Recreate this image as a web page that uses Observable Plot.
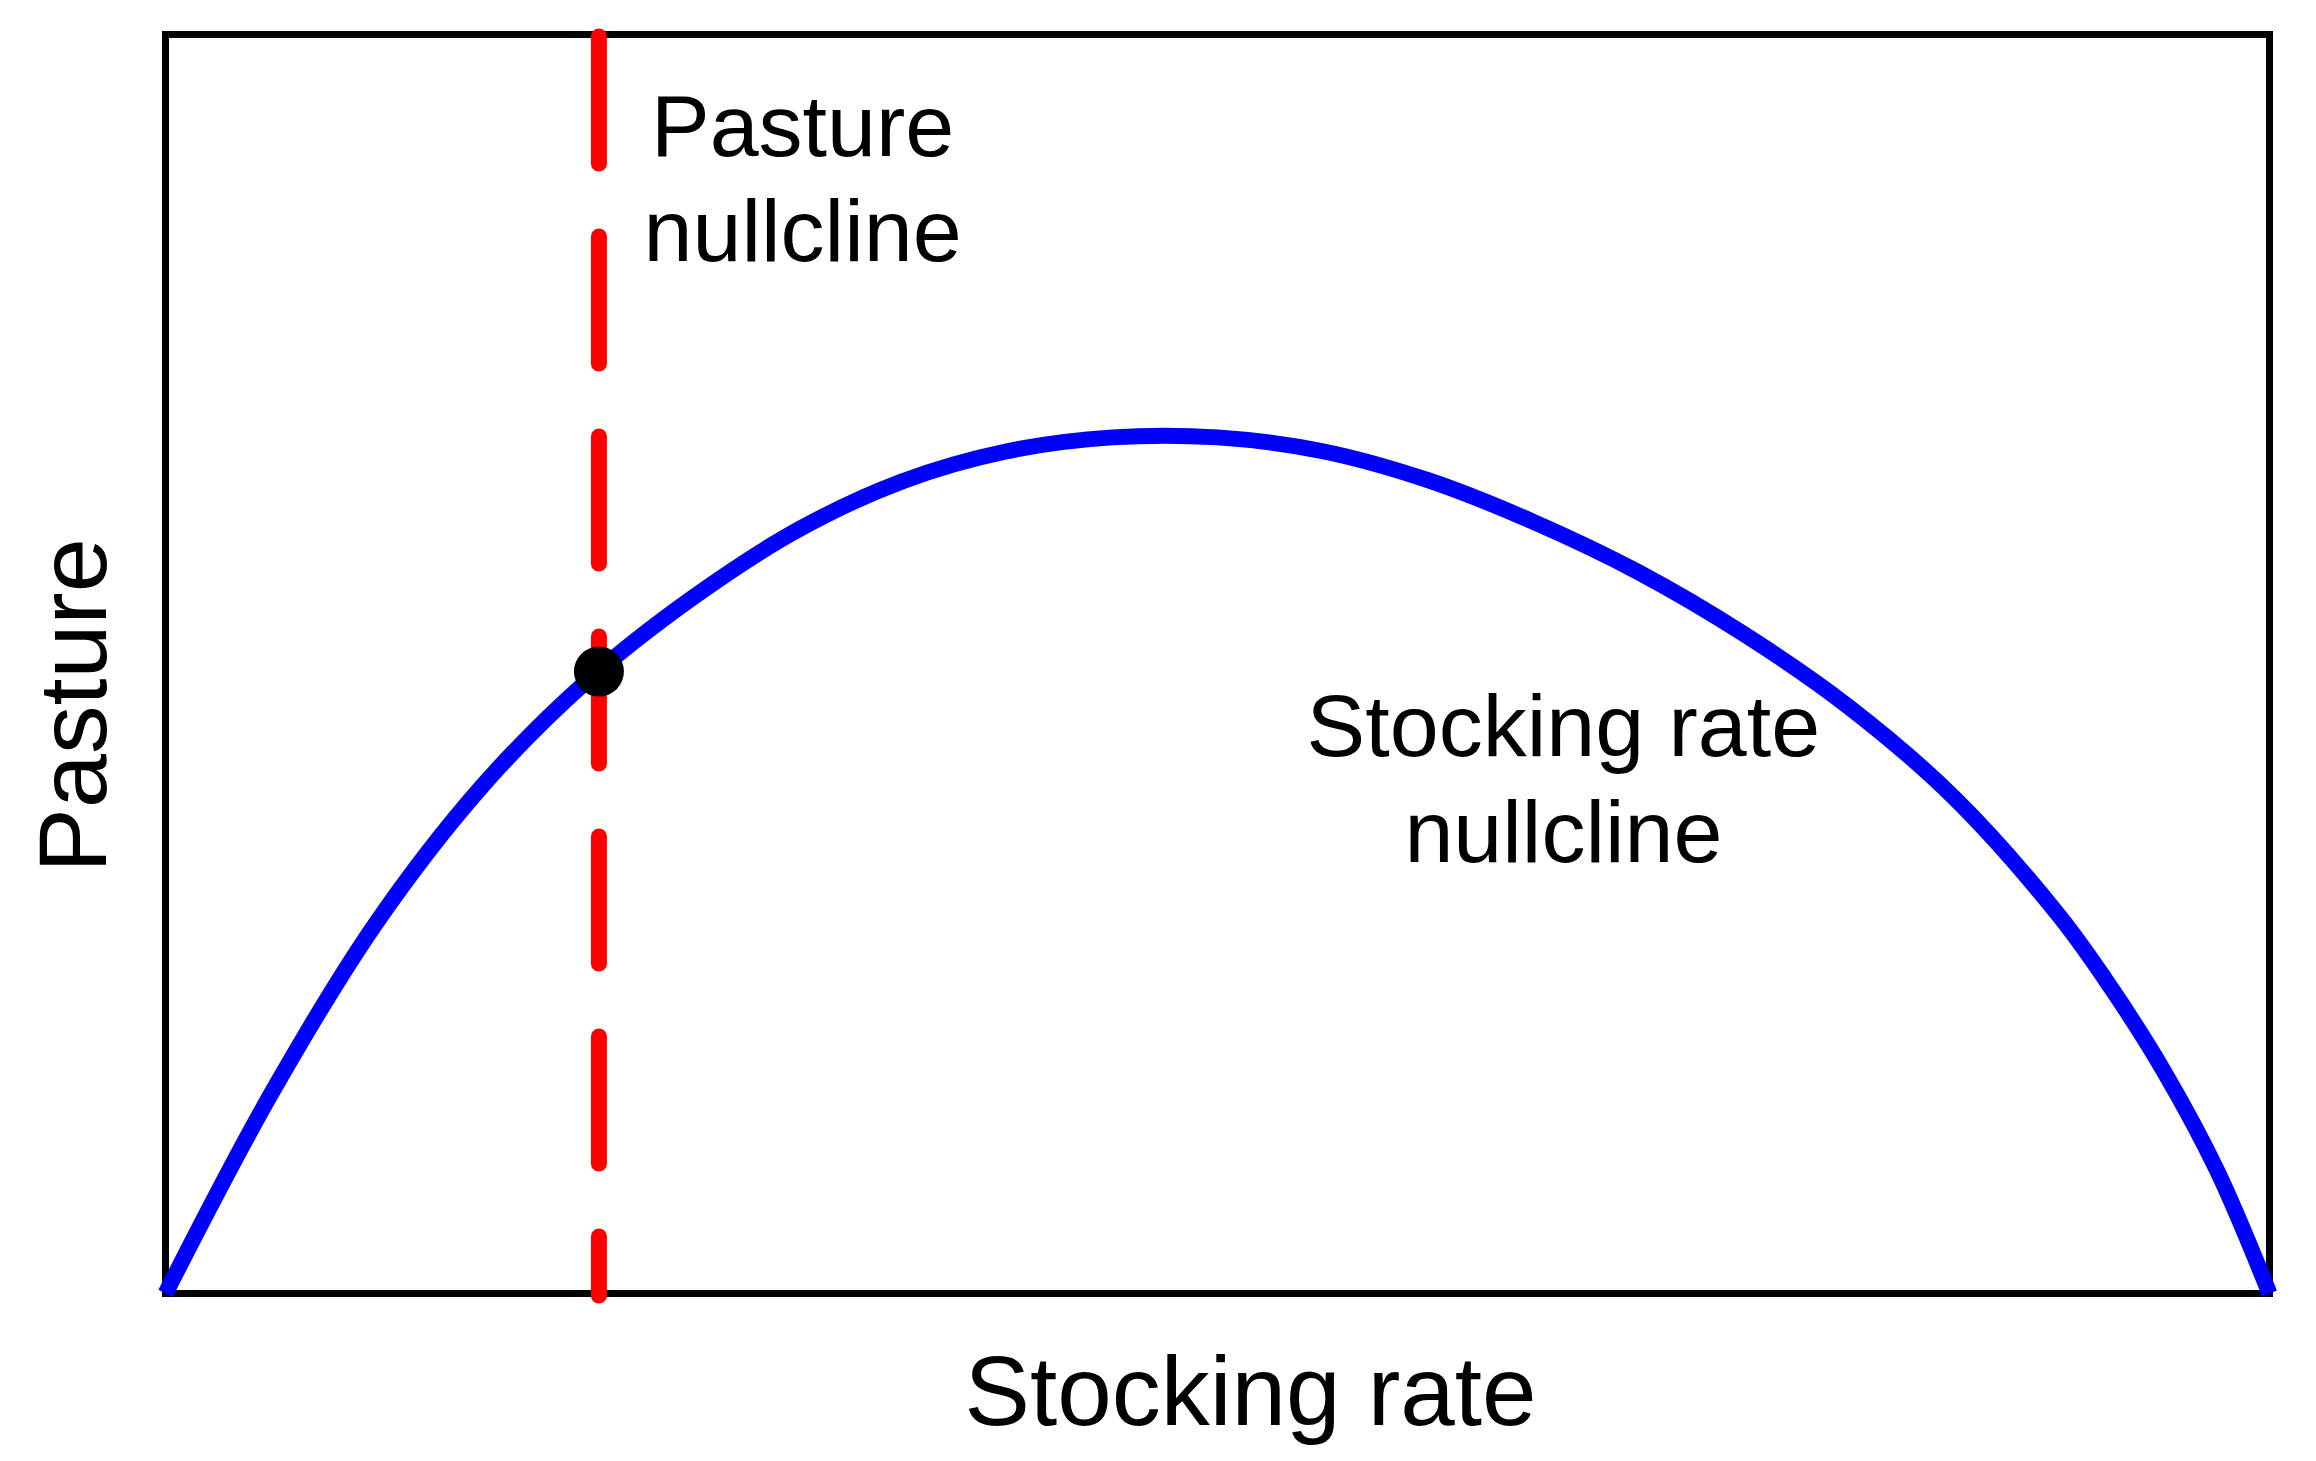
<!DOCTYPE html>
<html>
<head>
<meta charset="utf-8">
<script src="https://cdn.jsdelivr.net/npm/d3@7"></script>
<script src="https://cdn.jsdelivr.net/npm/@observablehq/plot@0.6"></script>
<style>
  html, body { margin: 0; padding: 0; background: #ffffff; }
  #chart svg { display: block; }
</style>
</head>
<body>
<div id="chart"></div>
<script>
// Stocking-rate nullcline (hump-shaped curve) (0–100 units)
const stockingRate = [0, 5, 10, 15, 20, 25, 30, 35, 40, 45, 50, 55, 60, 65, 70, 75, 80, 85, 90, 92.5, 95, 97.5, 100];
const pasture      = [0, 15.8, 29.4, 40.2, 48.6, 55.2, 60.6, 64.5, 66.9, 68.0, 68.0, 66.9, 64.6, 61.3, 57.3, 52.4, 46.6, 39.4, 30.0, 24.2, 17.6, 9.8, 0];

// Pasture nullcline (vertical dashed line)
const pastureNullclineX = [20.6];
const pastureNullclineTop = [99.8];
const pastureNullclineBottom = [-0.2];

// Equilibrium point
const equilibriumX = [20.6];
const equilibriumY = [49.4];

// Annotations
const annotationText = ["Pasture\nnullcline", "Stocking rate\nnullcline"];
const annotationX = [30.28, 66.44];
const annotationY = [81.97, 34.31];

// Axis titles
const xTitle = ["Stocking rate"];
const xTitleX = [51.57];
const xTitleY = [-10.48];
const yTitle = ["Pasture"];
const yTitleX = [-2.85];
const yTitleY = [46.7];

const curve = stockingRate.map((x, i) => ({x, y: pasture[i]}));
const nullcline = pastureNullclineX.map((x, i) => ({x, y1: pastureNullclineTop[i], y2: pastureNullclineBottom[i]}));
const eq = equilibriumX.map((x, i) => ({x, y: equilibriumY[i]}));
const notes = annotationText.map((t, i) => ({t, x: annotationX[i], y: annotationY[i]}));
const xt = xTitle.map((t, i) => ({t, x: xTitleX[i], y: xTitleY[i]}));
const yt = yTitle.map((t, i) => ({t, x: yTitleX[i], y: yTitleY[i]}));

const font = "'Liberation Sans', Arial, Helvetica, sans-serif";

const chart = Plot.plot({
  width: 2316,
  height: 1461,
  marginLeft: 165,
  marginRight: 47,
  marginTop: 34,
  marginBottom: 168,
  style: {fontFamily: font, background: "#ffffff", color: "#000000"},
  x: {domain: [0, 100], axis: null},
  y: {domain: [0, 100], axis: null},
  marks: [
    Plot.frame({stroke: "#000000", strokeWidth: 7}),
    Plot.line(curve, {x: "x", y: "y", stroke: "#0000ff", strokeWidth: 16, curve: "catmull-rom", strokeLinecap: "butt"}),
    Plot.ruleX(nullcline, {x: "x", y1: "y1", y2: "y2", stroke: "#ff0000", strokeWidth: 16, strokeDasharray: "127,73", strokeLinecap: "round"}),
    Plot.dot(eq, {x: "x", y: "y", r: 25, fill: "#000000", stroke: "none"}),
    Plot.text(notes, {x: "x", y: "y", text: "t", fontSize: 88, lineAnchor: "bottom", lineHeight: 1.2, textAnchor: "middle", fill: "#000000"}),
    Plot.text(xt, {x: "x", y: "y", text: "t", fontSize: 98, lineAnchor: "bottom", textAnchor: "middle", fill: "#000000"}),
    Plot.text(yt, {x: "x", y: "y", text: "t", fontSize: 97, lineAnchor: "bottom", textAnchor: "middle", rotate: -90, fill: "#000000"})
  ]
});

document.getElementById("chart").appendChild(chart);
</script>
</body>
</html>
